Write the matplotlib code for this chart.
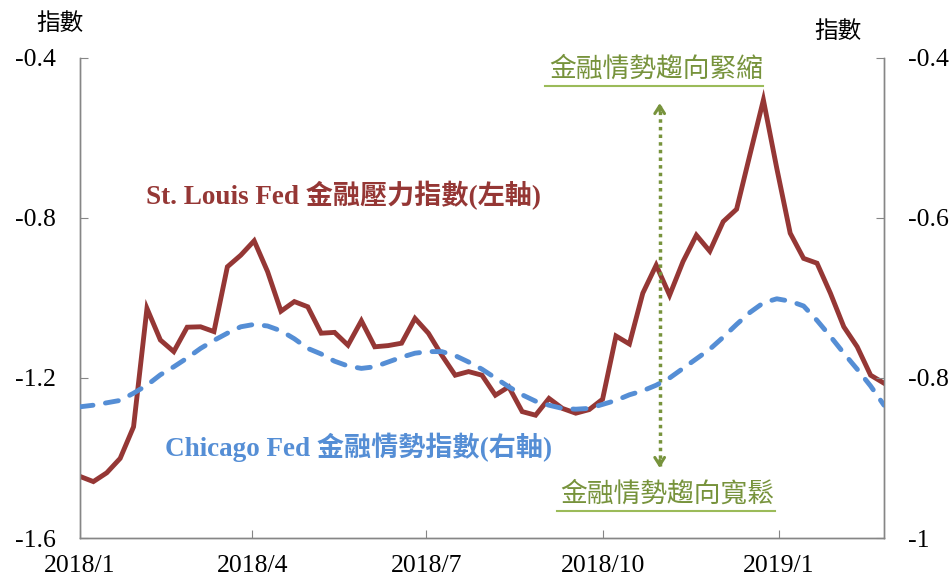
import numpy as np
import pandas as pd
import matplotlib
matplotlib.use('Agg')
import matplotlib.pyplot as plt

plt.rcParams['axes.unicode_minus'] = False
FONT = ['Liberation Serif', 'Noto Sans CJK TC']

# weekly observations, 2018/1 to 2019/2
dates = pd.date_range('2018-01-01', periods=61, freq='7D')

# St. Louis Fed financial stress index (left axis)
stl = [-1.446, -1.459, -1.437, -1.401, -1.322, -1.026, -1.105, -1.134, -1.073, -1.072,
       -1.084, -0.922, -0.893, -0.857, -0.934, -1.033, -1.009, -1.022, -1.088, -1.086,
       -1.118, -1.057, -1.122, -1.119, -1.113, -1.051, -1.088, -1.143, -1.193, -1.184,
       -1.193, -1.243, -1.222, -1.284, -1.293, -1.251, -1.276, -1.288, -1.279, -1.253,
       -1.095, -1.115, -0.988, -0.918, -0.993, -0.909, -0.843, -0.883, -0.809, -0.778,
       -0.641, -0.505, -0.676, -0.838, -0.901, -0.913, -0.988, -1.072, -1.122, -1.193,
       -1.213]

# Chicago Fed NFCI (right axis)
nfci = [-0.836, -0.834, -0.831, -0.828, -0.819, -0.809, -0.796, -0.786, -0.775, -0.763,
        -0.753, -0.744, -0.736, -0.733, -0.735, -0.741, -0.751, -0.763, -0.770, -0.779,
        -0.785, -0.788, -0.786, -0.780, -0.774, -0.769, -0.767, -0.767, -0.772, -0.780,
        -0.789, -0.800, -0.811, -0.821, -0.829, -0.834, -0.838, -0.839, -0.838, -0.833,
        -0.828, -0.821, -0.816, -0.809, -0.800, -0.788, -0.776, -0.764, -0.749, -0.733,
        -0.718, -0.706, -0.701, -0.704, -0.710, -0.728, -0.748, -0.769, -0.789, -0.810,
        -0.834]

xtick_dates = ['2018-01-01', '2018-04-01', '2018-07-01', '2018-10-01', '2019-01-01']
xtick_labels = ['2018/1', '2018/4', '2018/7', '2018/10', '2019/1']
left_ticks = [-1.6, -1.2, -0.8, -0.4]
right_ticks = [-1.0, -0.8, -0.6, -0.4]
right_labels = ['-1', '-0.8', '-0.6', '-0.4']

RED = '#953735'
BLUE = '#558ED5'
GREEN = '#77933C'
GRAY = '#868686'

fig = plt.figure(figsize=(9.53, 5.81), dpi=100)
ax = fig.add_axes([0.0839, 0.074, 0.8437, 0.8262])
ax2 = ax.twinx()

ax.plot(dates, stl, color=RED, lw=3.5, solid_joinstyle='miter', zorder=3)
ln, = ax2.plot(dates, nfci, color=BLUE, lw=3.5, dash_capstyle='round', zorder=3)
ln.set_dashes([2.7, 2.6])

ax.set_xlim(dates[0], dates[-1])
ax.set_ylim(-1.6, -0.4)
ax2.set_ylim(-1.0, -0.4)
ax.set_xticks(pd.to_datetime(xtick_dates))
ax.set_xticklabels(xtick_labels, family=FONT, fontsize=18.5)
ax.set_yticks(left_ticks)
ax.set_yticklabels([f'{v:.1f}' for v in left_ticks], family=FONT, fontsize=18.5)
ax2.set_yticks(right_ticks)
ax2.set_yticklabels(right_labels, family=FONT, fontsize=18.5)

for a in (ax, ax2):
    a.spines['top'].set_visible(False)
    for s in ('left', 'right', 'bottom'):
        a.spines[s].set_color(GRAY)
        a.spines[s].set_linewidth(1.0)
ax.tick_params(axis='x', direction='in', length=6, color=GRAY, pad=12)
ax.tick_params(axis='y', direction='in', length=6, color=GRAY, pad=17)
ax2.tick_params(axis='y', direction='in', length=6, color=GRAY, pad=17)

# unit labels
fig.text(0.063, 0.958, '指數', family=FONT, fontsize=17, ha='center', va='center')
fig.text(0.879, 0.945, '指數', family=FONT, fontsize=17, ha='center', va='center')

# series labels
ax.text(0.082, 0.7125, 'St. Louis Fed 金融壓力指數(左軸)', transform=ax.transAxes,
        family=FONT, fontsize=19.5, fontweight='bold', color=RED, ha='left', va='center')
ax.text(0.106, 0.19, 'Chicago Fed 金融情勢指數(右軸)', transform=ax.transAxes,
        family=FONT, fontsize=19.5, fontweight='bold', color=BLUE, ha='left', va='center')

# tightening / easing arrow: dotted shaft plus open heads
ax.plot([0.721, 0.721], [0.15, 0.90], transform=ax.transAxes, color=GREEN,
        lw=2.5, ls=(0, (1, 1.2)), zorder=4)
for y0, y1 in [(0.89, 0.906), (0.162, 0.146)]:
    ax.annotate('', xy=(0.721, y1), xytext=(0.721, y0), xycoords='axes fraction',
                arrowprops=dict(arrowstyle='->,head_length=0.55,head_width=0.35',
                                color=GREEN, lw=2.2, shrinkA=0, shrinkB=0), zorder=4)

ax.text(0.717, 0.975, '金融情勢趨向緊縮', transform=ax.transAxes, family=FONT,
        fontsize=19.3, color=GREEN, ha='center', va='center')
ax.plot([0.578, 0.850], [0.942, 0.942], transform=ax.transAxes, color='#9BBB59',
        lw=1.5, clip_on=False)
ax.text(0.730, 0.0896, '金融情勢趨向寬鬆', transform=ax.transAxes, family=FONT,
        fontsize=19.3, color=GREEN, ha='center', va='center')
ax.plot([0.593, 0.864], [0.056, 0.056], transform=ax.transAxes, color='#9BBB59',
        lw=1.5, clip_on=False)

fig.savefig('out.png', dpi=100)
